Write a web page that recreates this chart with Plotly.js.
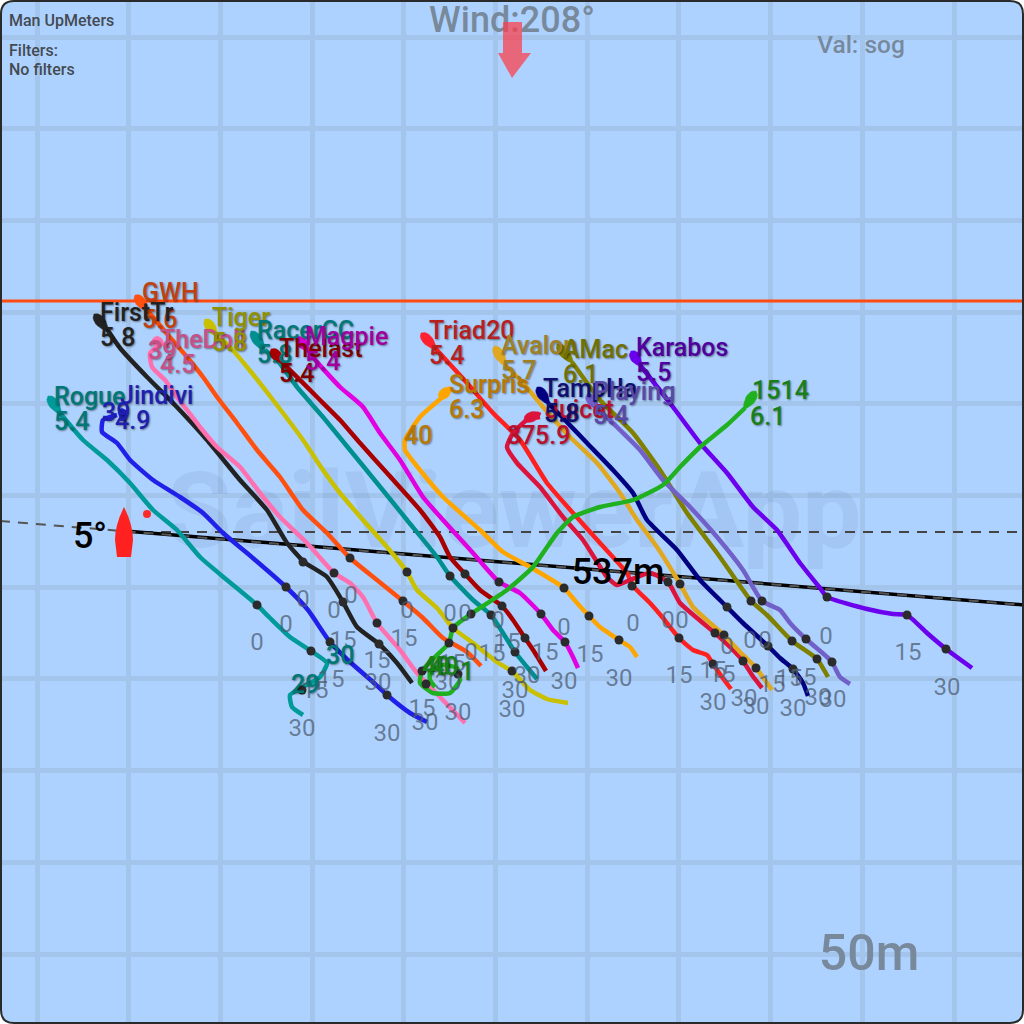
<!DOCTYPE html>
<html><head><meta charset="utf-8">
<script src="https://cdn.plot.ly/plotly-3.0.1.min.js"></script>
<style>html,body{margin:0;padding:0;background:#fff}#c{width:1024px;height:1024px}</style>
</head><body><div id="c"></div>
<script>
// Tracks, [x, y] on a 0-1024 course plane
const trackRogue=[[60,413],[83,440],[107,460],[130,483],[153,510],[177,530],[200,557],[227,580],[257,605],[270,618],[290,637],[311,651],[327,663],[320,677],[303,687],[290,695],[292,707],[303,715]];
const trackJindivi=[[117,415],[103,420],[102,432],[117,443],[130,460],[153,480],[180,497],[203,513],[223,533],[247,553],[286,587],[308,610],[330,642],[350,662],[373,682],[387,695],[410,713],[427,722]];
const trackFirstTr=[[107,329],[120,348],[147,377],[173,403],[207,440],[240,480],[267,510],[287,543],[304,562],[327,577],[343,602],[357,627],[379,644],[397,663],[412,683]];
const trackTheD=[[163,343],[150,353],[152,367],[165,380],[177,397],[187,410],[200,427],[217,447],[240,467],[260,493],[280,517],[307,543],[334,573],[350,583],[363,597],[377,623],[400,650],[417,673],[440,697],[465,723]];
const trackGWH=[[147,310],[168,335],[187,357],[203,377],[217,397],[237,423],[257,450],[280,477],[303,510],[327,533],[350,558],[377,580],[403,601],[423,618],[443,638],[467,652],[481,666]];
const trackTiger=[[216,335],[228,345],[247,367],[273,400],[303,440],[323,470],[340,493],[363,520],[387,547],[407,572],[417,590],[437,608],[453,628],[473,643],[497,662],[513,672],[530,690],[547,699],[568,703]];
const trackRacerCC=[[265,350],[277,360],[297,387],[323,417],[350,450],[377,483],[407,520],[437,557],[450,576],[473,600],[491,615],[503,633],[515,652],[527,667],[537,679]];
const trackThelast=[[282,362],[293,373],[317,397],[340,420],[360,443],[387,473],[420,510],[440,537],[450,557],[465,574],[480,590],[502,606],[513,620],[525,638],[535,653],[546,671]];
const trackMagpie=[[308,350],[317,362],[340,387],[363,407],[380,433],[400,460],[423,497],[443,520],[473,553],[499,582],[520,593],[541,614],[553,630],[565,642],[573,657],[578,668]];
const trackSurpris=[[445,395],[420,417],[405,440],[405,450],[420,470],[443,497],[480,530],[503,552],[530,567],[564,588],[577,603],[589,616],[600,627],[619,640],[630,647],[637,657]];
const trackTriad20=[[435,348],[467,383],[493,413],[520,440],[547,483],[573,513],[600,543],[627,573],[633,586],[650,603],[663,618],[679,638],[693,650],[707,655],[713,664],[722,677],[731,689]];
const trackJuicet=[[540,417],[527,420],[513,433],[507,447],[517,463],[540,487],[563,517],[583,540],[607,577],[617,585],[630,580],[650,573],[668,582],[680,603],[697,618],[715,633],[730,647],[743,661],[752,675],[762,688]];
const trackAvalon=[[505,365],[523,383],[543,407],[570,437],[597,463],[620,493],[637,520],[657,547],[680,584],[693,607],[710,623],[724,635],[740,652],[756,668],[772,690]];
const trackAMac=[[572,362],[600,400],[633,433],[660,470],[687,513],[717,553],[743,590],[751,601],[767,615],[792,641],[817,659],[828,677]];
const trackTamp=[[548,403],[563,418],[587,443],[613,470],[633,493],[647,520],[677,550],[700,580],[727,607],[743,623],[768,646],[780,658],[793,669],[803,683],[808,696]];
const trackPlaying=[[597,408],[617,427],[640,450],[663,480],[690,507],[717,537],[743,570],[762,601],[780,610],[790,623],[806,639],[827,657],[832,662],[840,677],[850,684]];
const trackKarabos=[[640,365],[673,407],[700,443],[727,473],[753,507],[777,530],[800,563],[820,588],[827,597],[867,609],[893,614],[907,615],[927,633],[946,649],[972,668]];
const track1514=[[745,408],[727,425],[700,447],[680,467],[663,485],[633,500],[600,507],[573,517],[557,533],[533,567],[507,590],[471,614],[453,628],[449,643],[435,657],[422,671],[420,683],[433,693],[450,693],[460,680],[457,668],[443,665],[430,672],[430,680],[435,687]];

// Boat hulls at the start of each track: bow, stern
const hullEnds=[[48,396,61,414],[118,413,128,414],[94,314,108,331],[135,295,148,311],[205,319,217,336],[251,331,265,351],[271,349,283,363],[297,337,309,351],[421,333,436,349],[439,398,452,387],[494,346,506,366],[524,420,541,413],[557,344,573,363],[537,387,549,404],[587,394,598,409],[631,351,641,366],[756,391,744,409],[152,340,164,343]];
const hullColors=['#009a9a','#2020e8','#222222','#ff5010','#c8c000','#008f8f','#a80000','#e000e0','#ff2030','#ffa500','#e0a820','#dc143c','#808000','#000080','#7060c8','#6a00ee','#20b020','#ff70b0'];

const trackNames=['Rogue','Jindivi','FirstTr','TheDoll','GWH','Tiger','RacerCC','Thelast','Magpie','Surpris','Triad20','Juicet','Avalon','AMac','TampHa','Playing','Karabos','1514'];
const trackData=[trackRogue,trackJindivi,trackFirstTr,trackTheD,trackGWH,trackTiger,trackRacerCC,trackThelast,trackMagpie,trackSurpris,trackTriad20,trackJuicet,trackAvalon,trackAMac,trackTamp,trackPlaying,trackKarabos,track1514];
const trackColors=['#009a9a','#2020e8','#222222','#ff70b0','#ff5010','#c8c000','#008f8f','#a80000','#e000e0','#ffa500','#ff2020','#dc143c','#e0a820','#808000','#000080','#7060c8','#6a00ee','#20b020'];

// Timing dots
const dotPoints=[[286,587],[257,605],[311,651],[302,690],[303,562],[334,573],[350,558],[407,572],[450,576],[465,574],[499,582],[564,588],[589,616],[541,614],[502,606],[471,614],[491,615],[453,628],[449,643],[403,601],[343,602],[377,623],[379,644],[330,642],[525,638],[565,642],[515,652],[512,671],[422,671],[426,684],[458,674],[387,695],[619,640],[632,586],[668,582],[680,584],[727,607],[751,601],[762,601],[827,597],[907,615],[946,649],[806,639],[792,641],[832,662],[817,659],[768,646],[793,669],[715,633],[724,635],[679,638],[713,664],[743,661],[756,668]];

// Timing labels
const timeText=['0','0','0','0','0','0','0','0','0','0','0','0','0','0','0','0','0','0','15','15','15','15','15','15','15','15','15','15','15','15','15','15','15','15','30','30','30','30','30','30','30','30','30','30','30','30','30','30','30','30','30','30','15','15'];
const timePoints=[[257,642],[286,624],[303,599],[334,610],[351,595],[407,610],[450,613],[465,613],[498,620],[564,627],[633,623],[471,652],[668,620],[682,620],[727,646],[750,640],[765,640],[826,636],
[343,640],[404,638],[377,660],[331,679],[315,690],[492,653],[507,642],[545,652],[590,654],[422,708],[452,663],[679,675],[713,670],[722,674],[772,684],[789,678],
[378,682],[302,728],[387,733],[425,722],[458,712],[448,682],[527,675],[515,690],[512,709],[564,681],[619,678],[713,702],[744,698],[756,706],[793,708],[818,697],[833,699],[947,687],[908,652],[803,677]];

// Boat name and speed labels
const boatNames=['GWH','FirstTr','TheDoll','Tiger','RacerCC','Thelast','Magpie','Rogue','Jindivi','Triad20','Avalon','AMac','Karabos','Surpris','Juicet','TampHa','Playing','1514'];
const boatSpeeds=['5.6','5.8','4.5','5.8','5.8','5.4','5.4','5.4','4.9','5.4','5.7','6.1','5.5','6.3','5.9','5.8','5.4','6.1'];
const namePoints=[[142,293],[100,313],[160,340],[212,318],[257,331],[279,349],[305,337],[54,397],[120,396],[429,331],[501,346],[563,350],[636,348],[449,385],[545,410],[543,389],[593,392],[752,391]];
const speedPoints=[[142,320],[100,338],[160,365],[212,343],[257,355],[279,374],[305,362],[54,422],[115,421],[429,356],[501,371],[563,375],[636,373],[449,410],[535,436],[544,414],[593,416],[750,417]];
const labelColors=['#c04010','#222222','#c85088','#909000','#007878','#800000','#a000a0','#007878','#2020b0','#b82020','#a08020','#707000','#5000a0','#b87800','#b81030','#101070','#5848a8','#188018'];

// Lap counts shown in the colour of their boat
const lapText=['39','39','40','37','30','29','40','40','1'];
const lapPoints=[[148,351],[102,413],[404,436],[507,436],[326,656],[291,685],[422,667],[430,667],[460,672]];
const lapColors=['#c85088','#2020b0','#b87800','#b81030','#007878','#007878','#188018','#188018','#188018'];

// Lines
const startLine=[[0,301],[1024,301]];
const laylineA=[[125,531],[1024,605]];
const laylineB=[[0,521],[1024,605]];
const laylineC=[[125,532],[1024,532]];

const FONT='Roboto, sans-serif';
const xs=p=>p.map(q=>q[0]), ys=p=>p.map(q=>q[1]);
function hullPoly(h,w){
  const [x0,y0,x1,y1]=h, dx=x1-x0, dy=y1-y0, L=Math.hypot(dx,dy), nx=-dy/L, ny=dx/L, o=[];
  const prof=t=>w*Math.pow(Math.sin(Math.PI*Math.pow(t,0.8)),0.7);
  for(let i=0;i<=10;i++){const t=i/10;o.push([x0+dx*t+nx*prof(t),y0+dy*t+ny*prof(t)]);}
  for(let i=10;i>=0;i--){const t=i/10;o.push([x0+dx*t-nx*prof(t),y0+dy*t-ny*prof(t)]);}
  return o;
}
const textTrace=(pts,text,color,size,pos,weight,shadow)=>({type:'scatter',mode:'text',x:xs(pts),y:ys(pts).map(v=>v+size*0.08),text:text,textposition:pos,
  textfont:{family:FONT,size:size,color:color,weight:weight||400,shadow:shadow||'none'},hoverinfo:'skip',showlegend:false,cliponaxis:false});
const lineTrace=(pts,color,width,dash)=>({type:'scatter',mode:'lines',x:xs(pts),y:ys(pts),line:{color:color,width:width,dash:dash||'solid'},hoverinfo:'skip',showlegend:false});

const traces=[];
traces.push(textTrace([[514,512]],['SailViewerApp'],'rgba(95,125,170,0.13)',106,'middle center',700));
traces.push(lineTrace(startLine,'#ff4a10',3));
traces.push(lineTrace(laylineC,'#444444',2,'10px,8px'));
traces.push(lineTrace(laylineA,'#000000',3.5));
traces.push(lineTrace(laylineB,'#555555',2,'10px,8px'));
trackData.forEach((t,i)=>traces.push({type:'scatter',mode:'lines',name:trackNames[i],x:xs(t),y:ys(t),line:{color:trackColors[i],width:4.5,shape:'spline',smoothing:0.5},hoverinfo:'skip',showlegend:false}));
hullEnds.forEach((h,i)=>{const p=hullPoly(h,5);traces.push({type:'scatter',mode:'lines',x:xs(p),y:ys(p),fill:'toself',fillcolor:hullColors[i],line:{color:hullColors[i],width:0.5},hoverinfo:'skip',showlegend:false});});
traces.push({type:'scatter',mode:'markers',x:xs(dotPoints),y:ys(dotPoints),marker:{size:9,color:'#2b2b2b'},hoverinfo:'skip',showlegend:false});
traces.push({type:'scatter',mode:'markers',x:[147],y:[514],marker:{size:8,color:'#ff2a2a'},hoverinfo:'skip',showlegend:false});
traces.push(textTrace(timePoints,timeText,'rgba(75,90,110,0.72)',24,'middle center',400));
const SH='1px 1px 2px rgba(0,0,0,0.45)';
boatNames.forEach((n,i)=>{
  traces.push(textTrace([namePoints[i],speedPoints[i]],[n,boatSpeeds[i]],labelColors[i],25,'middle right',500,SH));
});
lapText.forEach((n,i)=>traces.push(textTrace([lapPoints[i]],[n],lapColors[i],25,'middle right',500,SH)));
traces.push(textTrace([[618,572]],['537m'],'#000000',36,'middle center',500));
traces.push(textTrace([[90,536]],['5°'],'#000000',36,'middle center',500));
traces.push(textTrace([[512,20]],['Wind:208°'],'#78899c',36,'middle center',500));
traces.push(textTrace([[861,45]],['Val: sog'],'#78899c',24.5,'middle center',500));
traces.push(textTrace([[869,953]],['50m'],'#78899c',50,'middle center',500));
traces.push(textTrace([[9,21],[9,51],[9,70]],['Man UpMeters','Filters:','No filters'],'#444a52',16,'middle right',500));

const axis={range:[0,1024],tick0:37,dtick:91.7,showgrid:true,gridcolor:'#a3c5ec',gridwidth:5,zeroline:false,showticklabels:false,ticks:'',showline:false,fixedrange:true};
const layout={width:1024,height:1024,margin:{l:0,r:0,t:0,b:0},paper_bgcolor:'#ffffff',plot_bgcolor:'rgba(0,0,0,0)',showlegend:false,
  xaxis:Object.assign({},axis),yaxis:Object.assign({},axis,{range:[1024,0]}),
  shapes:[
    {type:'path',layer:'below',xref:'x',yref:'y',path:'M14,1 H1010 Q1023,1 1023,14 V1010 Q1023,1023 1010,1023 H14 Q1,1023 1,1010 V14 Q1,1 14,1 Z',fillcolor:'#aed2ff',line:{width:0}},
    {type:'path',layer:'above',xref:'x',yref:'y',path:'M14,1 H1010 Q1023,1 1023,14 V1010 Q1023,1023 1010,1023 H14 Q1,1023 1,1010 V14 Q1,1 14,1 Z',line:{color:'#2a2a2a',width:2}},
    {type:'path',layer:'above',xref:'x',yref:'y',path:'M503,22 H522 V53 H531 L512,78 L498,53 H503 Z',fillcolor:'rgba(255,60,70,0.72)',line:{width:0}},
    {type:'path',layer:'above',xref:'x',yref:'y',path:'M124,507 Q133,525 133,540 L131,557 H117 L115,540 Q115,525 124,507 Z',fillcolor:'#ff2020',line:{width:0}}
  ]};
Plotly.newPlot('c',traces,layout,{displayModeBar:false,staticPlot:true});
</script></body></html>
